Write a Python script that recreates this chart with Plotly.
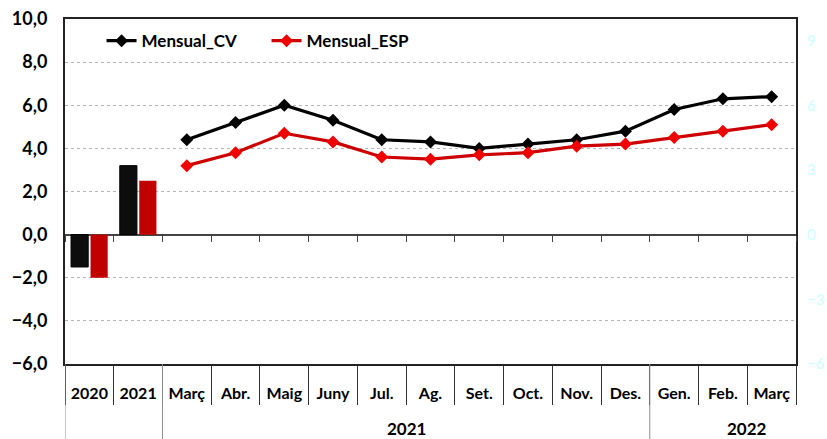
import plotly.graph_objects as go

# ---- data ----
categories = ["2020", "2021", "Març", "Abr.", "Maig", "Juny", "Jul.", "Ag.", "Set.",
              "Oct.", "Nov.", "Des.", "Gen.", "Feb.", "Març"]
annual_idx = [0, 1]
annual_cv = [-1.5, 3.2]
annual_esp = [-2.0, 2.5]
monthly_idx = list(range(2, 15))
monthly_cv = [4.4, 5.2, 6.0, 5.3, 4.4, 4.3, 4.0, 4.2, 4.4, 4.8, 5.8, 6.3, 6.4]
monthly_esp = [3.2, 3.8, 4.7, 4.3, 3.6, 3.5, 3.7, 3.8, 4.1, 4.2, 4.5, 4.8, 5.1]
year_groups = ["2021", "2022"]
year_group_pos = [6.5, 13.5]
group_dividers = [-0.5, 1.5, 11.5]
left_ticks = [-6, -4, -2, 0, 2, 4, 6, 8, 10]
right_ticks = [-6, -3, 0, 3, 6, 9]

FONT = "Lato"
boundaries = [i - 0.5 for i in range(len(categories) + 1)]

fig = go.Figure()
fig.add_trace(go.Bar(x=annual_idx, y=annual_cv, name="Anual_CV", showlegend=False,
                     marker=dict(color="#0d0d0d", line=dict(color="#000000", width=1))))
fig.add_trace(go.Bar(x=annual_idx, y=annual_esp, name="Anual_ESP", showlegend=False,
                     marker=dict(color="#c00000", line=dict(color="#c00000", width=0))))
fig.add_trace(go.Scatter(x=monthly_idx, y=monthly_cv, name="Mensual_CV", mode="lines+markers",
                         line=dict(color="#000000", width=3.2),
                         marker=dict(symbol="diamond", size=10, color="#000000")))
fig.add_trace(go.Scatter(x=monthly_idx, y=monthly_esp, name="Mensual_ESP", mode="lines+markers",
                         line=dict(color="#cc0000", width=3.2),
                         marker=dict(symbol="diamond", size=10, color="#f00000")))
# invisible helper trace for the secondary axes
fig.add_trace(go.Scatter(x=[0], y=[0], xaxis="x2", yaxis="y2", mode="markers",
                         marker=dict(opacity=0), showlegend=False, hoverinfo="skip"))

for xv, txt in zip(year_group_pos, year_groups):
    fig.add_annotation(x=xv, y=-0.188, xref="x", yref="paper", text=txt, showarrow=False,
                       font=dict(family=FONT, size=17, color="#000", weight="bold"),
                       xanchor="center", yanchor="middle")
for xv in group_dividers:
    fig.add_shape(type="line", x0=xv, x1=xv, y0=0, y1=-0.22, xref="x", yref="paper",
                  line=dict(color="#8c8c8c", width=1))

fig.update_layout(
    width=827, height=439,
    margin=dict(l=65, r=31, t=19, b=75, autoexpand=False),
    paper_bgcolor="white", plot_bgcolor="white",
    separators=",.",
    barmode="group", bargap=0.2, bargroupgap=0.12,
    font=dict(family=FONT, color="#000"),
    legend=dict(orientation="h", x=0.05, y=0.936, xanchor="left", yanchor="middle",
                font=dict(family=FONT, size=17, weight="bold"), bgcolor="rgba(0,0,0,0)",
                entrywidth=120, traceorder="normal"),
    xaxis=dict(range=[-0.5, 14.5], tickvals=list(range(len(categories))), ticktext=categories,
               ticks="outside", ticklen=14, tickcolor="rgba(0,0,0,0)", automargin=False,
               tickfont=dict(family=FONT, size=16, weight="bold"),
               minor=dict(tickvals=boundaries, ticks="outside", ticklen=39, tickcolor="#333",
                          tickwidth=1, showgrid=False),
               showgrid=False, zeroline=False,
               showline=True, linecolor="#222", linewidth=2, mirror=True),
    xaxis2=dict(overlaying="x", anchor="free", position=0.375, range=[-0.5, 14.5],
                tickvals=boundaries, ticks="outside", ticklen=6, tickcolor="#444", automargin=False,
                showticklabels=False, showgrid=False, zeroline=False, showline=False),
    yaxis=dict(range=[-6, 10], tickvals=left_ticks, tickformat=".1f", automargin=False,
               tickfont=dict(family=FONT, size=18, weight="bold"),
               showgrid=True, gridcolor="#b5b5b5", griddash="dot", gridwidth=1,
               zeroline=True, zerolinecolor="#444", zerolinewidth=1.5,
               showline=True, linecolor="#222", linewidth=2, mirror=True,
               ticks="outside", ticklen=12, tickcolor="rgba(0,0,0,0)"),
    yaxis2=dict(overlaying="y", side="right", anchor="x", range=[-6, 10], tickvals=right_ticks,
                tickfont=dict(family=FONT, size=15, color="#ccffff"), automargin=False,
                showgrid=False, zeroline=False, showline=False,
                ticks="outside", ticklen=7, tickcolor="rgba(0,0,0,0)"),
)

fig.write_html("out.html", config={"displayModeBar": False},
               post_script="document.body.style.margin='0';document.body.style.overflow='hidden';")
